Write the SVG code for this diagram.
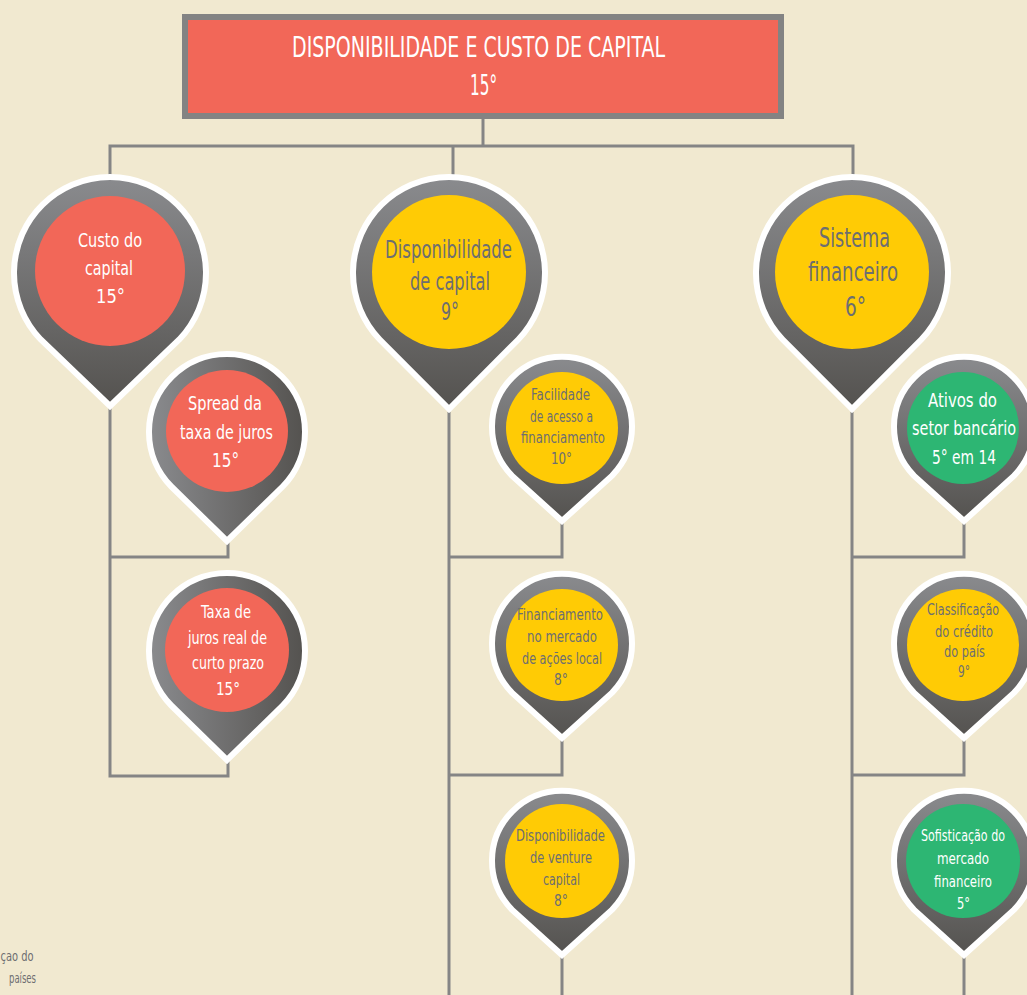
<svg xmlns="http://www.w3.org/2000/svg" width="1027" height="995" viewBox="0 0 1027 995">
<defs>
<linearGradient id="gv" x1="0" y1="0" x2="0" y2="1"><stop offset="0" stop-color="#8a8b8e"/><stop offset="1" stop-color="#54524f"/></linearGradient>
<linearGradient id="gh" x1="0" y1="0" x2="1" y2="0"><stop offset="0" stop-color="#8a8b8e"/><stop offset="1" stop-color="#54524f"/></linearGradient>
<style>
.bg{fill:#f1e9d0}
.conn{stroke:#858585;stroke-width:3;fill:none}
.pin{stroke:#fff;stroke-width:6;stroke-linejoin:miter}
.red{fill:#f26758}
.yel{fill:#ffcb05}
.grn{fill:#2db673}
text{font-family:"DejaVu Sans Condensed","Liberation Sans",sans-serif;text-anchor:middle}
.w{fill:#ffffff}
.g{fill:#6d6e71}
</style>
</defs>
<rect class="bg" x="0" y="0" width="1027" height="995"/>
<g id="connectors" class="conn">
<path d="M483 119V146M110 176V146H853V176M453 146V176"/>
<path d="M110 406V776H228V760M110 557H228V541"/>
<path d="M449 412V995M449 557H562V521M449 775H562V738M562 955V995"/>
<path d="M852 412V995M852 557H964V521M852 775H964V738M964 955V995"/>
</g>
<g id="root">
<rect x="185" y="17" width="596" height="99" fill="#f26758" stroke="#838383" stroke-width="6"/>
<text class="w" x="478.5" y="57" font-size="28" textLength="373" lengthAdjust="spacingAndGlyphs">DISPONIBILIDADE E CUSTO DE CAPITAL</text>
<text class="w" x="483.5" y="95" font-size="28" textLength="27" lengthAdjust="spacingAndGlyphs">15°</text>
</g>
<g id="custo">
<path class="pin" fill="url(#gv)" d="M110 406L40.7 339.5A96 96 0 1 1 179.3 339.5Z"/>
<circle class="red" cx="110" cy="271" r="75"/>
<text class="w" x="110" y="247" font-size="20" textLength="64" lengthAdjust="spacingAndGlyphs">Custo do</text>
<text class="w" x="109" y="275" font-size="20" textLength="48" lengthAdjust="spacingAndGlyphs">capital</text>
<text class="w" x="110.5" y="303" font-size="20" textLength="29" lengthAdjust="spacingAndGlyphs">15°</text>
</g>
<g id="disp">
<path class="pin" fill="url(#gv)" d="M449 409L379.7 339.5A96 96 0 1 1 518.3 339.5Z"/>
<circle class="yel" cx="449" cy="272" r="77"/>
<text class="g" x="448.5" y="258" font-size="24" textLength="127" lengthAdjust="spacingAndGlyphs">Disponibilidade</text>
<text class="g" x="450" y="290" font-size="24" textLength="80" lengthAdjust="spacingAndGlyphs">de capital</text>
<text class="g" x="450" y="320" font-size="24" textLength="18" lengthAdjust="spacingAndGlyphs">9°</text>
</g>
<g id="sist">
<path class="pin" fill="url(#gv)" d="M852 409L782.7 339.5A96 96 0 1 1 921.3 339.5Z"/>
<circle class="yel" cx="852" cy="272" r="77"/>
<text class="g" x="854.5" y="247" font-size="26" textLength="71" lengthAdjust="spacingAndGlyphs">Sistema</text>
<text class="g" x="853" y="281" font-size="26" textLength="90" lengthAdjust="spacingAndGlyphs">financeiro</text>
<text class="g" x="855.5" y="316" font-size="26" textLength="21" lengthAdjust="spacingAndGlyphs">6°</text>
</g>
<g id="spread">
<path class="pin" fill="url(#gh)" d="M227 541L171.3 486.5A78 78 0 1 1 282.7 486.5Z"/>
<circle class="red" cx="227" cy="431" r="61"/>
<text class="w" x="225" y="410" font-size="20" textLength="74" lengthAdjust="spacingAndGlyphs">Spread da</text>
<text class="w" x="226.5" y="439" font-size="20" textLength="93" lengthAdjust="spacingAndGlyphs">taxa de juros</text>
<text class="w" x="225.5" y="467" font-size="20" textLength="27" lengthAdjust="spacingAndGlyphs">15°</text>
</g>
<g id="taxa">
<path class="pin" fill="url(#gh)" d="M227 760L171.3 705.5A78 78 0 1 1 282.7 705.5Z"/>
<circle class="red" cx="227" cy="650" r="62"/>
<text class="w" x="226" y="618" font-size="18" textLength="50" lengthAdjust="spacingAndGlyphs">Taxa de</text>
<text class="w" x="227.5" y="644" font-size="18" textLength="79" lengthAdjust="spacingAndGlyphs">juros real de</text>
<text class="w" x="228" y="669" font-size="18" textLength="72" lengthAdjust="spacingAndGlyphs">curto prazo</text>
<text class="w" x="228" y="695" font-size="18" textLength="24" lengthAdjust="spacingAndGlyphs">15°</text>
</g>
<g id="facil">
<path class="pin" fill="url(#gv)" d="M562 521L511.9 475.6A70 70 0 1 1 612.1 475.6Z"/>
<circle class="yel" cx="562" cy="428" r="56"/>
<text class="g" x="560.5" y="400" font-size="15" textLength="59" lengthAdjust="spacingAndGlyphs">Facilidade</text>
<text class="g" x="561.5" y="422" font-size="15" textLength="63" lengthAdjust="spacingAndGlyphs">de acesso a</text>
<text class="g" x="563" y="443" font-size="15" textLength="84" lengthAdjust="spacingAndGlyphs">financiamento</text>
<text class="g" x="561.5" y="464" font-size="15" textLength="21" lengthAdjust="spacingAndGlyphs">10°</text>
</g>
<g id="financ">
<path class="pin" fill="url(#gv)" d="M562 738L511.9 692.6A70 70 0 1 1 612.1 692.6Z"/>
<circle class="yel" cx="562" cy="645" r="56"/>
<text class="g" x="560" y="620" font-size="15" textLength="86" lengthAdjust="spacingAndGlyphs">Financiamento</text>
<text class="g" x="562" y="642" font-size="15" textLength="70" lengthAdjust="spacingAndGlyphs">no mercado</text>
<text class="g" x="562" y="664" font-size="15" textLength="80" lengthAdjust="spacingAndGlyphs">de ações local</text>
<text class="g" x="561" y="685" font-size="15" textLength="14" lengthAdjust="spacingAndGlyphs">8°</text>
</g>
<g id="venture">
<path class="pin" fill="url(#gv)" d="M562 955L511.9 909.6A70 70 0 1 1 612.1 909.6Z"/>
<circle class="yel" cx="562" cy="861" r="57"/>
<text class="g" x="560.5" y="841" font-size="15" textLength="89" lengthAdjust="spacingAndGlyphs">Disponibilidade</text>
<text class="g" x="561" y="863" font-size="15" textLength="62" lengthAdjust="spacingAndGlyphs">de venture</text>
<text class="g" x="561.5" y="885" font-size="15" textLength="37" lengthAdjust="spacingAndGlyphs">capital</text>
<text class="g" x="561" y="906" font-size="15" textLength="14" lengthAdjust="spacingAndGlyphs">8°</text>
</g>
<g id="ativos">
<path class="pin" fill="url(#gv)" d="M964 521L913.9 475.6A70 70 0 1 1 1014.1 475.6Z"/>
<circle class="grn" cx="963" cy="428" r="56"/>
<text class="w" x="962.5" y="407" font-size="20" textLength="69" lengthAdjust="spacingAndGlyphs">Ativos do</text>
<text class="w" x="964" y="435" font-size="20" textLength="104" lengthAdjust="spacingAndGlyphs">setor bancário</text>
<text class="w" x="964" y="464" font-size="20" textLength="64" lengthAdjust="spacingAndGlyphs">5° em 14</text>
</g>
<g id="classif">
<path class="pin" fill="url(#gv)" d="M964 738L913.9 692.6A70 70 0 1 1 1014.1 692.6Z"/>
<circle class="yel" cx="963" cy="645" r="56"/>
<text class="g" x="963" y="615" font-size="15" textLength="72" lengthAdjust="spacingAndGlyphs">Classificação</text>
<text class="g" x="964" y="637" font-size="15" textLength="58" lengthAdjust="spacingAndGlyphs">do crédito</text>
<text class="g" x="964.5" y="657" font-size="15" textLength="41" lengthAdjust="spacingAndGlyphs">do país</text>
<text class="g" x="964" y="677" font-size="15" textLength="12" lengthAdjust="spacingAndGlyphs">9°</text>
</g>
<g id="sofist">
<path class="pin" fill="url(#gv)" d="M964 955L913.9 909.6A70 70 0 1 1 1014.1 909.6Z"/>
<circle class="grn" cx="963" cy="861" r="57"/>
<text class="w" x="963" y="841" font-size="15" textLength="84" lengthAdjust="spacingAndGlyphs">Sofisticação do</text>
<text class="w" x="963" y="864" font-size="15" textLength="52" lengthAdjust="spacingAndGlyphs">mercado</text>
<text class="w" x="963" y="887" font-size="15" textLength="58" lengthAdjust="spacingAndGlyphs">financeiro</text>
<text class="w" x="963.5" y="909" font-size="15" textLength="13" lengthAdjust="spacingAndGlyphs">5°</text>
</g>
<g id="note">
<text class="g" x="17" y="961" font-size="14" textLength="33" lengthAdjust="spacingAndGlyphs">çao do</text>
<text class="g" x="22.5" y="983" font-size="14" textLength="27" lengthAdjust="spacingAndGlyphs">países</text>
</g>
</svg>
